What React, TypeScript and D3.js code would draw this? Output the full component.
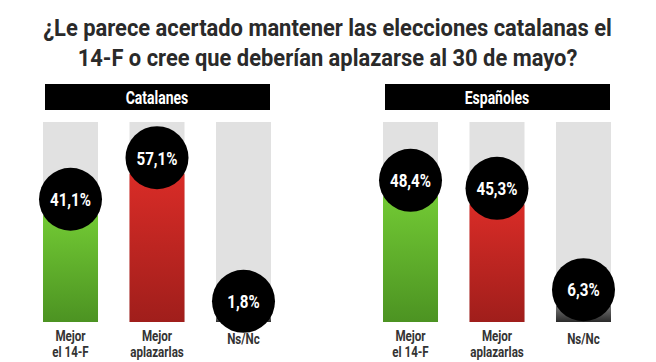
import { useEffect, useRef } from "react"
import * as d3 from "d3"

// data
const titleLines = [
  "¿Le parece acertado mantener las elecciones catalanas el",
  "14-F o cree que deberían aplazarse al 30 de mayo?",
]
const groups = ["Catalanes", "Españoles"]
const categories = ["Mejor el 14-F", "Mejor aplazarlas", "Ns/Nc"]
const categoryLines = [["Mejor", "el 14-F"], ["Mejor", "aplazarlas"], ["Ns/Nc"]]
const catalanes = [41.1, 57.1, 1.8]
const espanoles = [48.4, 45.3, 6.3]
const seriesByGroup = [catalanes, espanoles]

const W = 656
const H = 362
const FONT = "Roboto, 'Open Sans', sans-serif"

const App = () => {
  const ref = useRef<SVGSVGElement>(null)

  useEffect(() => {
    const svg = d3.select(ref.current)
    svg.selectAll("*").remove()

    // roboto squeezed sideways to look like the condensed face
    // text sits at 0,0 inside a translated <g>, scale goes on the text
    const squeeze = (sel: any, factor: number | ((len: number, i: number) => number)) => {
      sel.each(function (this: SVGTextElement, d: any, i: number) {
        const len = this.getComputedTextLength()
        const f = typeof factor === "function" ? factor(len, i) : factor
        d3.select(this).attr("transform", `scale(${f},1)`)
      })
    }

    svg.append("rect").attr("width", W).attr("height", H).attr("fill", "#fff")

    const defs = svg.append("defs")
    const grads = [
      { id: "g0", top: "#72c934", bottom: "#4c9322" },
      { id: "g1", top: "#d92c27", bottom: "#a01e1b" },
      { id: "g2", top: "#777777", bottom: "#2a2a2a" },
    ]
    grads.forEach((g) => {
      const lg = defs.append("linearGradient").attr("id", g.id).attr("x1", 0).attr("y1", 0).attr("x2", 0).attr("y2", 1)
      lg.append("stop").attr("offset", "0%").attr("stop-color", g.top)
      lg.append("stop").attr("offset", "100%").attr("stop-color", g.bottom)
    })

    // title
    const titleWidths = [569, 500]
    svg.append("g")
      .selectAll("g")
      .data(titleLines)
      .join("g")
      .attr("transform", (d, i) => `translate(327.5,${36 + i * 30})`)
      .append("text")
      .attr("text-anchor", "middle")
      .attr("font-family", FONT)
      .attr("font-weight", 700)
      .attr("font-size", 24)
      .attr("fill", "#2a2a2a")
      .text((d) => d)
      .call(squeeze, (len: number, i: number) => titleWidths[i] / len)

    const y = d3.scaleLinear().domain([0, 77]).range([322, 122])
    const groupX = d3.scalePoint().domain(groups).range([43, 383])
    const x = d3.scaleBand().domain(categories).range([0, 228]).paddingInner(0.364).paddingOuter(0)
    const fmt = (v: number) => d3.format(".1f")(v).replace(".", ",") + "%"

    groups.forEach((gName, gi) => {
      const g = svg.append("g").attr("transform", `translate(${groupX(gName)},0)`)
      const values = seriesByGroup[gi]

      // header bar
      g.append("rect").attr("x", 2).attr("y", 84).attr("width", 225).attr("height", 26).attr("fill", "#000")
      g.append("g")
        .attr("transform", "translate(114,103.5)")
        .append("text")
        .attr("text-anchor", "middle")
        .attr("font-family", FONT)
        .attr("font-weight", 700)
        .attr("font-size", 17.5)
        .attr("fill", "#fff")
        .text(gName)
        .call(squeeze, 0.8)

      // background bars
      g.append("g")
        .selectAll("rect")
        .data(categories)
        .join("rect")
        .attr("x", (d) => x(d)!)
        .attr("y", y(77))
        .attr("width", x.bandwidth())
        .attr("height", y(0) - y(77))
        .attr("fill", "#e1e1e1")

      // value bars
      g.append("g")
        .selectAll("rect")
        .data(values)
        .join("rect")
        .attr("x", (d, i) => x(categories[i])!)
        .attr("y", (d) => y(d))
        .attr("width", x.bandwidth())
        .attr("height", (d) => y(0) - y(d))
        .attr("fill", (d, i) => `url(#g${i})`)

      // bubbles
      const bub = g.append("g")
        .selectAll("g")
        .data(values)
        .join("g")
        .attr("transform", (d, i) => `translate(${x(categories[i])! + x.bandwidth() / 2},${y(d) - 16})`)
      bub.append("circle").attr("r", 31.5).attr("fill", "#000")
      bub.append("text")
        .attr("text-anchor", "middle")
        .attr("dy", "0.36em")
        .attr("font-family", FONT)
        .attr("font-weight", 700)
        .attr("font-size", 19)
        .attr("fill", "#fff")
        .text((d) => fmt(d))
        .call(squeeze, 0.8)

      // category labels
      const lab = g.append("g")
        .selectAll("g")
        .data(categoryLines)
        .join("g")
        .attr("transform", (d, i) => `translate(${x(categories[i])! + x.bandwidth() / 2},${d.length > 1 ? 340.5 : 344})`)
      lab.selectAll("text")
        .data((d) => d)
        .join("text")
        .attr("y", (d, i) => i * 16.5)
        .attr("text-anchor", "middle")
        .attr("font-family", FONT)
        .attr("font-weight", 700)
        .attr("font-size", 14.5)
        .attr("fill", "#333")
        .text((d) => d)
        .call(squeeze, 0.8)
    })
  }, [])

  return (
    <svg
      ref={ref}
      width={W}
      height={H}
      style={{ position: "absolute", left: 0, top: 0, display: "block" }}
    />
  )
}

export default App
